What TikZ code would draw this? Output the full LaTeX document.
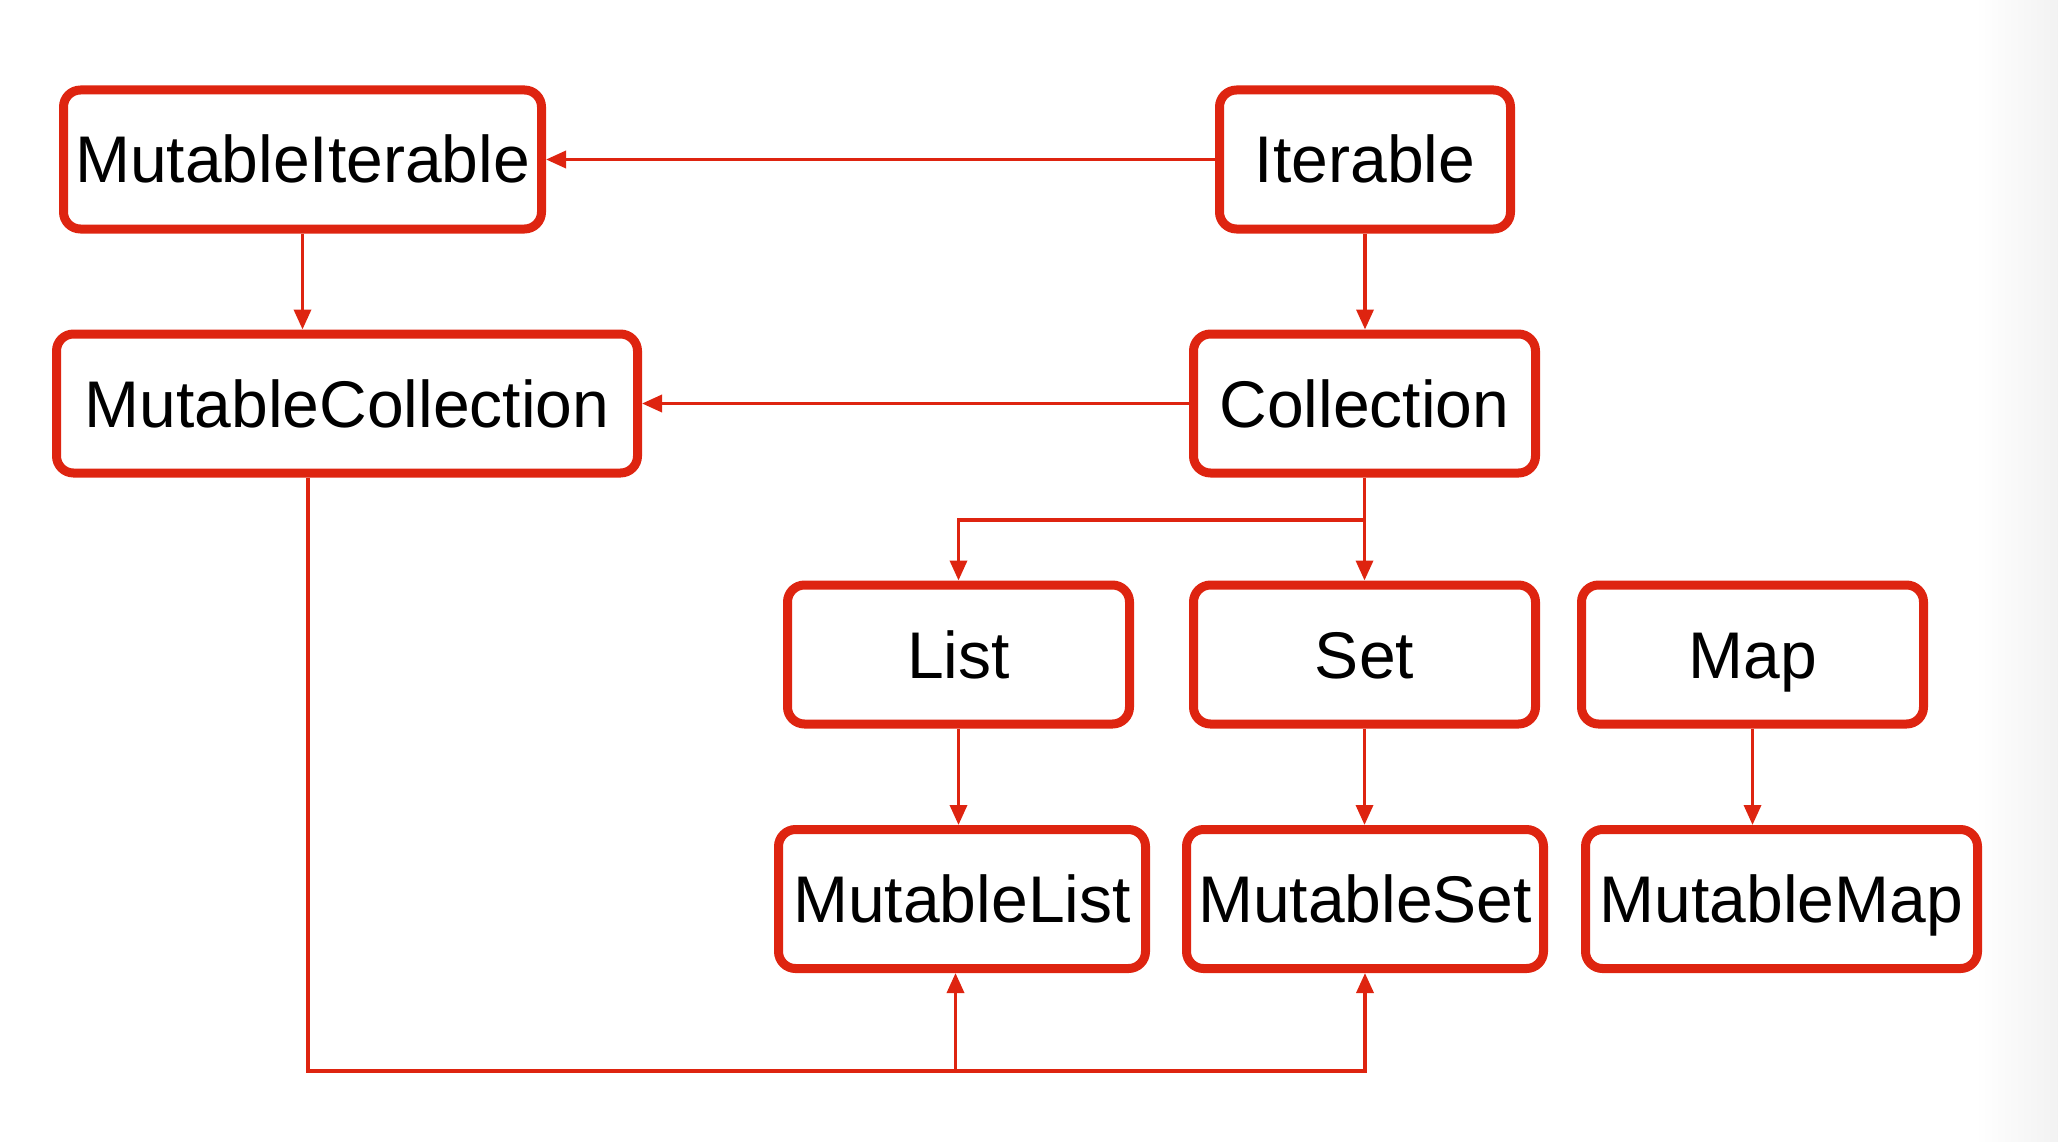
\documentclass[tikz,border=0pt]{standalone}
\usepackage{fontspec}
\setmainfont{Liberation Sans}
\usetikzlibrary{arrows.meta}
\definecolor{kred}{RGB}{222,36,16}
\begin{document}
\begin{tikzpicture}[x=1pt,y=-1pt,
  cls/.style={draw=kred, line width=9pt, rounded corners=17pt, fill=white,
    inner sep=0pt, outer sep=4.5pt, text height=47pt, text depth=0pt,
    font=\fontsize{66}{79}\selectfont, minimum height=139pt},
  link/.style={draw=kred, line width=3.5pt, -{Triangle[length=20pt,width=17pt]}},
  plain/.style={draw=kred, line width=3.5pt}]
\useasboundingbox (0,0) rectangle (2058,1142);
\shade[left color=white, right color=black!5] (1975,0) rectangle (2058,1142);

\node[cls, minimum width=478pt] (mi) at (302.5,159.5) {MutableIterable};
\node[cls, minimum width=291pt] (it) at (1365,159.5) {Iterable};
\node[cls, minimum width=581pt] (mc) at (347,403.5) {MutableCollection};
\node[cls, minimum width=342pt] (co) at (1364.5,403.5) {Collection};
\node[cls, minimum width=342pt] (li) at (958.5,654.5) {List};
\node[cls, minimum width=342pt] (se) at (1364.5,654.5) {Set};
\node[cls, minimum width=342pt] (ma) at (1752.5,654.5) {Map};
\node[cls, minimum width=367pt] (ml) at (962,899) {MutableList};
\node[cls, minimum width=357pt] (ms) at (1365,899) {MutableSet};
\node[cls, minimum width=392pt] (mm) at (1781.5,899) {MutableMap};

\coordinate (split) at (1364.5,520);
\coordinate (bot) at (308,1071);
\coordinate (bj) at (955.5,1071);

\draw[link] (it.west) -- (mi.east);
\draw[link] (mi.south) -- (mc.north -| mi.south);
\draw[link] (it.south) -- (co.north -| it.south);
\draw[link] (co.west) -- (mc.east);
\draw[plain] (co.south) -- (split);
\draw[link] (split) -| (li.north);
\draw[link] (split) -- (se.north);
\draw[link] (li.south) -- (ml.north -| li.south);
\draw[link] (se.south) -- (ms.north -| se.south);
\draw[link] (ma.south) -- (mm.north -| ma.south);
\draw[link] (mc.south -| bot) -- (bot) -| (ms.south);
\draw[link] (bj) -- (ml.south -| bj);
\end{tikzpicture}
\end{document}
